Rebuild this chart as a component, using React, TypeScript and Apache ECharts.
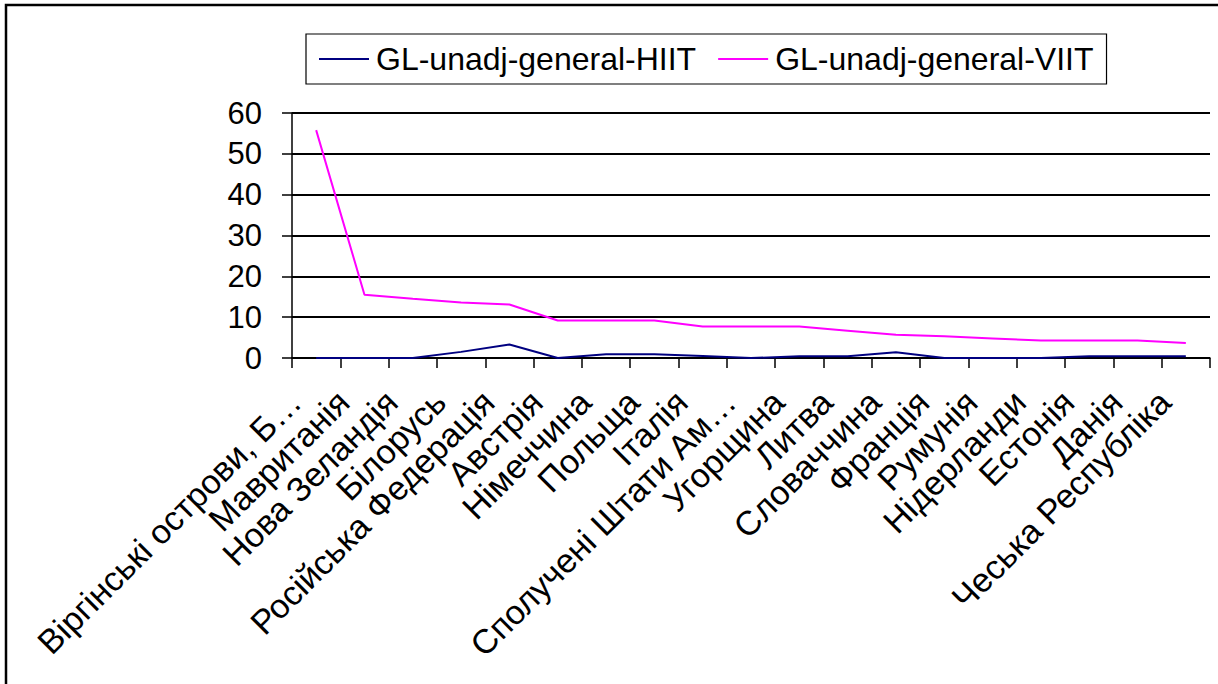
import React, { useEffect, useRef } from "react";
import * as echarts from "echarts";

const categories = [
  "Віргінські острови, Б…",
  "Мавританія",
  "Нова Зеландія",
  "Білорусь",
  "Російська Федерація",
  "Австрія",
  "Німеччина",
  "Польща",
  "Італія",
  "Сполучені Штати Ам…",
  "Угорщина",
  "Литва",
  "Словаччина",
  "Франція",
  "Румунія",
  "Нідерланди",
  "Естонія",
  "Данія",
  "Чеська Республіка",
];

const seriesNames = ["GL-unadj-general-HIIT", "GL-unadj-general-VIIT"];

const hiitValues = [0, 0, 0, 1.5, 3.3, 0, 0.9, 0.9, 0.5, 0, 0.4, 0.4, 1.4, 0, 0, 0, 0.4, 0.4, 0.4];
const viitValues = [55.8, 15.5, 14.5, 13.6, 13.1, 9.2, 9.2, 9.2, 7.7, 7.7, 7.7, 6.7, 5.7, 5.3, 4.8, 4.3, 4.3, 4.3, 3.7];

const yTicks = [0, 10, 20, 30, 40, 50, 60];

const FONT = "'Liberation Sans', Arial, sans-serif";

export default function App() {
  const ref = useRef<HTMLDivElement>(null);
  useEffect(() => {
    if (!ref.current) return;
    const chart = echarts.init(ref.current, null, { renderer: "svg" });
    chart.setOption({
      animation: false,
      backgroundColor: "#ffffff",
      textStyle: { fontFamily: FONT },
      graphic: [
        {
          type: "rect",
          shape: { x: 6, y: 5, width: 1240, height: 720 },
          style: { fill: "none", stroke: "#000", lineWidth: 2.5 },
          silent: true,
        },
      ],
      legend: {
        left: 306,
        top: 34,
        orient: "horizontal",
        padding: [9, 13, 9, 13],
        itemGap: 22,
        itemWidth: 50,
        itemHeight: 2,
        icon: "rect",
        borderColor: "#000",
        borderWidth: 1.2,
        textStyle: { fontSize: 32, color: "#000", fontFamily: FONT, padding: [0, 0, 0, 2] },
        data: seriesNames,
      },
      grid: { left: 292, right: 8, top: 113, bottom: 326, containLabel: false },
      xAxis: {
        type: "category",
        data: categories,
        boundaryGap: true,
        axisLine: { lineStyle: { color: "#000", width: 1.5 } },
        axisTick: { show: true, length: 10, lineStyle: { color: "#000", width: 1.5 } },
        axisLabel: {
          interval: 0,
          rotate: 45,
          margin: 17,
          padding: [0, 30, 0, 0],
          fontSize: 34,
          color: "#000",
          fontFamily: FONT,
        },
      },
      yAxis: {
        type: "value",
        min: 0,
        max: 60,
        interval: 10,
        axisLine: { show: true, lineStyle: { color: "#000", width: 1.5 } },
        axisTick: { show: true, length: 10, lineStyle: { color: "#000", width: 1.5 } },
        splitLine: { lineStyle: { color: "#000", width: 2 } },
        axisLabel: {
          margin: 30,
          fontSize: 31,
          color: "#000",
          fontFamily: FONT,
          formatter: (v: number) => (yTicks.includes(v) ? String(v) : ""),
        },
      },
      series: [
        {
          name: seriesNames[0],
          type: "line",
          data: hiitValues,
          symbol: "none",
          lineStyle: { color: "#000080", width: 2 },
          itemStyle: { color: "#000080" },
          z: 3,
        },
        {
          name: seriesNames[1],
          type: "line",
          data: viitValues,
          symbol: "none",
          lineStyle: { color: "#FF00FF", width: 2 },
          itemStyle: { color: "#FF00FF" },
          z: 2,
        },
      ],
    });
    return () => chart.dispose();
  }, []);
  return (
    <div
      ref={ref}
      style={{ position: "absolute", left: 0, top: 0, width: 1218, height: 684 }}
    />
  );
}
